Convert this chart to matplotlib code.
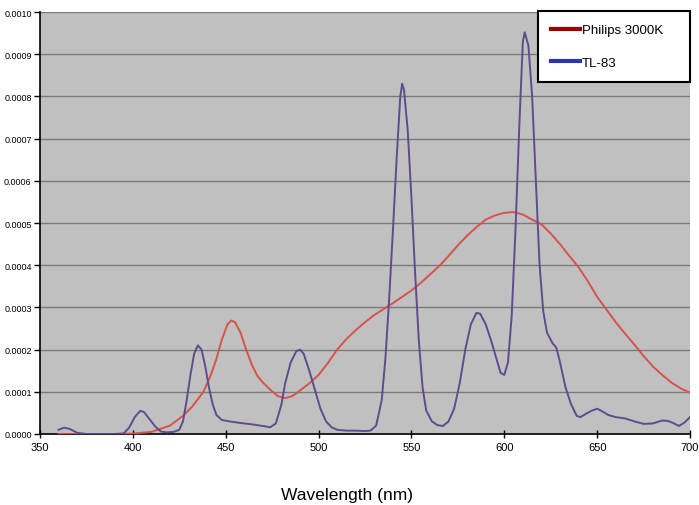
import matplotlib
matplotlib.use("Agg")
import matplotlib.pyplot as plt
from matplotlib.lines import Line2D
from matplotlib.ticker import FormatStrFormatter

plt.rcParams['font.family'] = ['Liberation Sans', 'DejaVu Sans']

tl83_wl = [360, 363, 366, 370, 375, 380, 390, 395, 398, 401, 404, 406, 409, 412, 415, 418, 422, 425,
           427, 429, 431, 433, 435, 437, 439, 441, 443, 445, 448, 452, 458, 464, 470, 474, 477, 480,
           482, 485, 488, 490, 492, 495, 498, 501, 504, 507, 510, 515, 520, 525, 528, 531, 534, 536,
           538, 540, 542, 544, 545, 546, 548, 550, 552, 554, 556, 558, 561, 564, 567, 570, 573, 576,
           579, 582, 585, 587, 590, 593, 596, 598, 600, 602, 604, 606, 608, 610, 611, 613, 615, 617,
           619, 621, 623, 626, 628, 630, 633, 636, 639, 641, 644, 647, 650, 653, 656, 660, 665, 670,
           675, 680, 685, 688, 691, 694, 697, 700]
tl83_val = [0.000010, 0.000015, 0.000012, 0.000003, 0.000000, 0.0, 0.0, 0.000001, 0.000015, 0.000040,
            0.000055, 0.000052, 0.000035, 0.000018, 0.000006, 0.000004, 0.000005, 0.000010,
            0.000030, 0.000080, 0.000140, 0.000190, 0.000210, 0.000200, 0.000160, 0.000110,
            0.000070, 0.000045, 0.000033, 0.000030, 0.000026, 0.000023, 0.000019, 0.000016,
            0.000025, 0.000070, 0.000120, 0.000170, 0.000196, 0.000200, 0.000190, 0.000150,
            0.000105, 0.000060, 0.000030, 0.000016, 0.000010, 0.000008, 0.000008, 0.000007,
            0.000008, 0.000020, 0.000080, 0.000180, 0.000320, 0.000480, 0.000650, 0.000800,
            0.000830, 0.000815, 0.000720, 0.000560, 0.000380, 0.000220, 0.000110, 0.000055,
            0.000030, 0.000021, 0.000019, 0.000030, 0.000060, 0.000120, 0.000200, 0.000260,
            0.000287, 0.000285, 0.000260, 0.000220, 0.000175, 0.000145, 0.000140, 0.000170,
            0.000280, 0.000480, 0.000720, 0.000930, 0.000952, 0.000920, 0.000800, 0.000600,
            0.000400, 0.000290, 0.000240, 0.000215, 0.000205, 0.000170, 0.000110, 0.000070,
            0.000043, 0.000040, 0.000048, 0.000055, 0.000060, 0.000053, 0.000045, 0.000040,
            0.000037, 0.000030, 0.000024, 0.000025, 0.000032, 0.000031, 0.000026, 0.000019,
            0.000027, 0.000040]

philips_wl = [360, 370, 380, 390, 400, 410, 420, 427, 432, 438, 442, 445, 448, 451, 453, 455, 458,
              461, 464, 467, 470, 474, 478, 482, 486, 490, 495, 500, 505, 510, 515, 520, 525, 530,
              535, 540, 545, 550, 555, 560, 565, 570, 575, 580, 585, 590, 595, 600, 605, 610, 615,
              620, 625, 630, 635, 640, 645, 650, 655, 660, 665, 670, 675, 680, 685, 690, 695, 700]
philips_val = [0.0, 0.0, 0.0, 0.0, 0.000001, 0.000005, 0.000020, 0.000043, 0.000065, 0.000100,
               0.000140, 0.000178, 0.000225, 0.000260, 0.000269, 0.000265, 0.000240, 0.000200,
               0.000165, 0.000138, 0.000122, 0.000105, 0.000090, 0.000085, 0.000090, 0.000103,
               0.000120, 0.000140, 0.000168, 0.000200, 0.000225, 0.000246, 0.000265, 0.000282,
               0.000296, 0.000310, 0.000325, 0.000340, 0.000358, 0.000378, 0.000398, 0.000422,
               0.000447, 0.000470, 0.000490, 0.000508, 0.000518, 0.000524, 0.000526, 0.000520,
               0.000508, 0.000497, 0.000475, 0.000450, 0.000422, 0.000395, 0.000362, 0.000325,
               0.000295, 0.000265, 0.000238, 0.000212, 0.000185, 0.000160, 0.000140, 0.000122,
               0.000108, 0.000098]

x_ticks = [350, 400, 450, 500, 550, 600, 650, 700]
y_ticks = [0.0000, 0.0001, 0.0002, 0.0003, 0.0004, 0.0005, 0.0006, 0.0007, 0.0008, 0.0009, 0.0010]
series_names = ["Philips 3000K", "TL-83"]

fig = plt.figure(figsize=(6.99, 5.06), dpi=100)
ax = fig.add_axes([40/699, (506-435)/506, 650/699, 422/506])
ax.set_facecolor('#c0c0c0')

ax.plot(philips_wl, philips_val, color='#d8524a', lw=1.4, zorder=3)
ax.plot(tl83_wl, tl83_val, color='#5e4c8e', lw=1.4, zorder=4)

ax.set_xlim(350, 700)
ax.set_ylim(0, 0.0010)
ax.set_xticks(x_ticks)
ax.set_yticks(y_ticks)
ax.yaxis.set_major_formatter(FormatStrFormatter('%.4f'))
ax.tick_params(axis='y', labelsize=6.5, direction='out', length=4, width=1, pad=2)
ax.tick_params(axis='x', labelsize=8, direction='inout', length=6, width=1, pad=3)
ax.grid(axis='y', color='#7a7a7a', lw=1)
ax.set_axisbelow(True)
for s in ['top', 'right']:
    ax.spines[s].set_visible(False)
ax.spines['left'].set_linewidth(1.2)
ax.spines['bottom'].set_linewidth(1.2)

ax.set_xlabel('Wavelength (nm)', fontsize=12.5, va='top')
ax.xaxis.set_label_coords(0.472, -0.125)

handles = [Line2D([0], [0], color='#990000', lw=3),
           Line2D([0], [0], color='#3333aa', lw=3)]
x0 = (538 - 40) / 650
leg = ax.legend(handles, series_names, loc='upper right',
                bbox_to_anchor=(x0, 0.0, 1.0 - x0, 1.003), mode='expand',
                fontsize=9.5, frameon=True, fancybox=False, framealpha=1,
                edgecolor='black', handlelength=2.2, handletextpad=0.1,
                labelspacing=1.55, borderpad=1.0, borderaxespad=0)
leg.get_frame().set_linewidth(1.5)

fig.savefig('out.png', dpi=100)
